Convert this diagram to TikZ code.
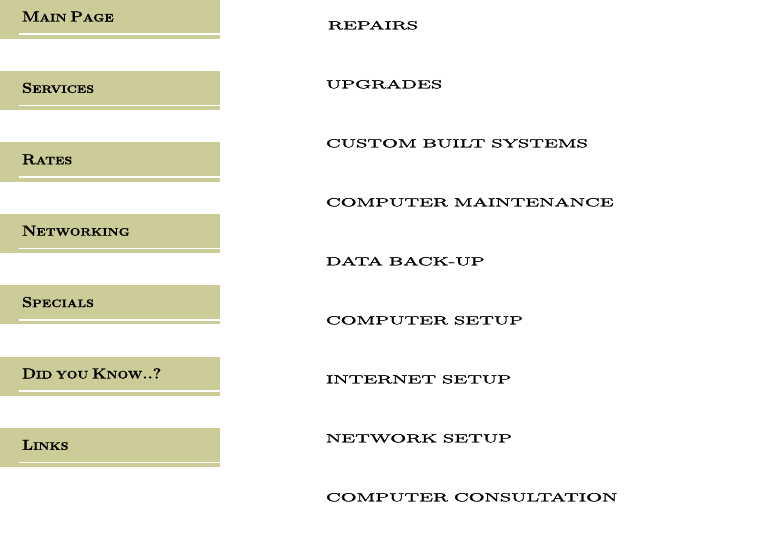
\documentclass[tikz,border=0pt]{standalone}
\usepackage{graphicx}
\usepackage{fontspec}
\usetikzlibrary{positioning}

\newfontfamily\menufont[FakeBold=0.6]{Latin Modern Roman}
\newfontfamily\srvfont[FakeBold=1.3]{Latin Modern Roman}
\definecolor{khaki}{RGB}{204,204,153}
\newcommand{\smc}[1]{{\fontsize{11}{11}\selectfont #1}}
\newcommand{\lbl}[1]{\scalebox{1.12}[1]{\fontsize{14.6}{15}\menufont\bfseries #1}}
\newcommand{\srv}[1]{\scalebox{1.78}[1]{\fontsize{11.7}{12}\srvfont #1}}

\begin{document}
\begin{tikzpicture}[x=1pt,y=-1pt,node distance=71.4pt,
  menu/.style={fill=khaki,inner xsep=22pt,inner ysep=0pt,text width=176pt,align=left,
    text height=22pt,text depth=17.3pt,
    path picture={\draw[white,line width=1.7pt]
      ([shift={(19pt,4.6pt)}]path picture bounding box.south west) --
      ([shift={(0pt,4.6pt)}]path picture bounding box.south east);}},
  service/.style={inner sep=0pt,text width=300pt,align=left,text height=8pt,text depth=0pt}]

\useasboundingbox (0,0) rectangle (783,552);

% menu on the left
\node[menu]   (main)       at (110,19.15)      {\lbl{M\smc{AIN} P\smc{AGE}}};
 \node[menu]  (services)   [below of=main]     {\lbl{S\smc{ERVICES}}};
	\node[menu]  (rates)      [below of=services] {\lbl{R\smc{ATES}}};
	\node[menu]  (networking) [below of=rates]    {\lbl{N\smc{ETWORKING}}};
	\node[menu]  (specials)   [below of=networking] {\lbl{S\smc{PECIALS}}};
	\node[menu]  (know)       [below of=specials] {\lbl{D\smc{ID YOU} K\smc{NOW}..?}};
	\node[menu]  (links)      [below of=know]     {\lbl{L\smc{INKS}}};

% list of services
\node[service] (repairs)  at (478,25.3)  {\srv{REPAIRS}};
 \node[service] (upgrades) [below of=repairs,node distance=59pt,xshift=-2pt] {\srv{UPGRADES}};
	\node[service] (custom)   [below of=upgrades,node distance=59pt] {\srv{CUSTOM BUILT SYSTEMS}};
	\node[service] (maint)    [below of=custom,node distance=59pt]   {\srv{COMPUTER MAINTENANCE}};
	\node[service] (backup)   [below of=maint,node distance=59pt]    {\srv{DATA BACK-UP}};
	\node[service] (setup)    [below of=backup,node distance=59pt]   {\srv{COMPUTER SETUP}};
	\node[service] (internet) [below of=setup,node distance=59pt]    {\srv{INTERNET SETUP}};
	\node[service] (network)  [below of=internet,node distance=59pt] {\srv{NETWORK SETUP}};
	\node[service] (consult)  [below of=network,node distance=59pt]  {\srv{COMPUTER CONSULTATION}};

\end{tikzpicture}
\end{document}
